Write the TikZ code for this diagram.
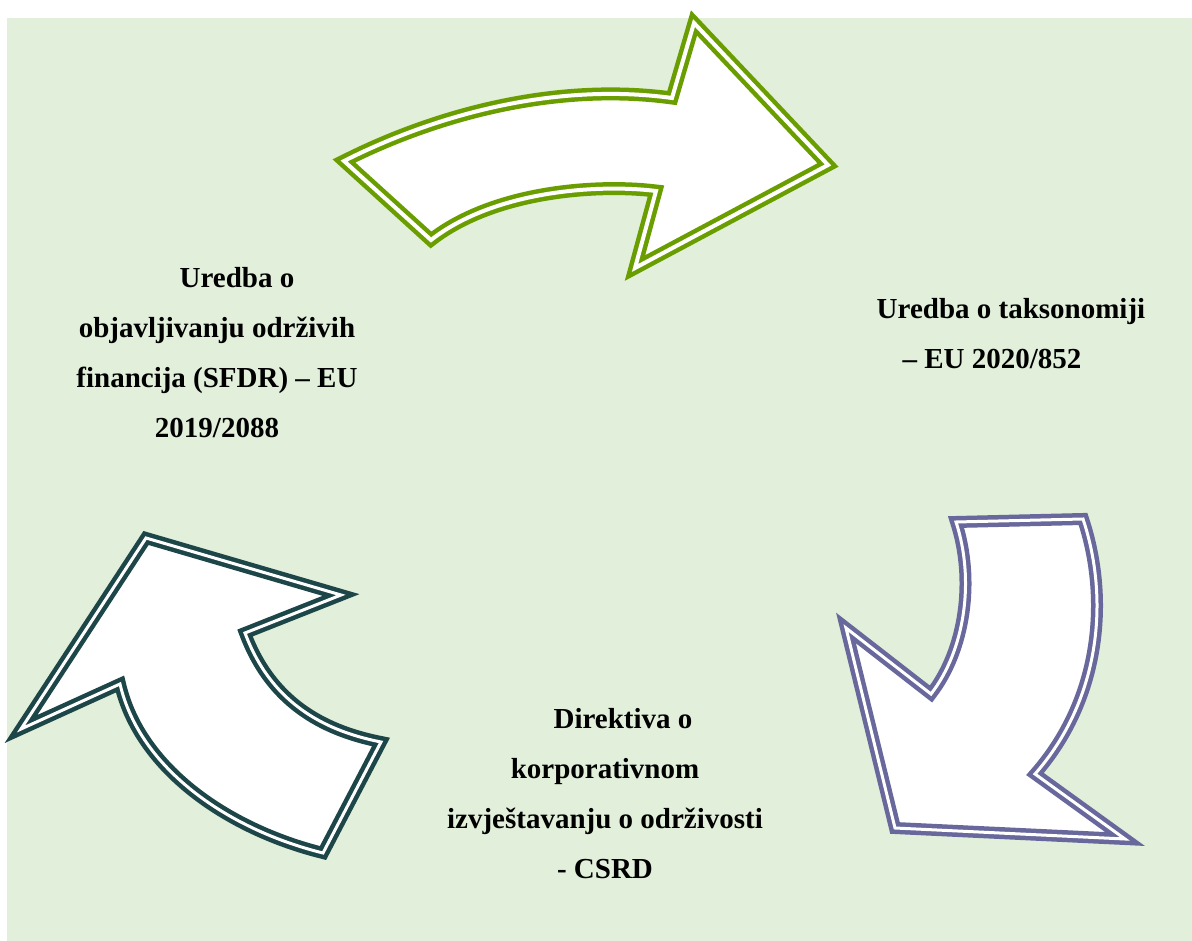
\documentclass[tikz,border=0pt]{standalone}
\usepackage{fontspec}
\setmainfont{Liberation Serif}
\definecolor{pozadina}{RGB}{226,239,218}
\definecolor{zelena}{RGB}{106,158,0}
\definecolor{ljubicasta}{RGB}{104,104,156}
\definecolor{tamna}{RGB}{29,70,73}
\tikzstyle{every node}=[font=\fontsize{29}{50}\selectfont\bfseries,align=center,anchor=north,inner sep=0pt]
\tikzstyle{strelica}=[fill=white,line width=4.5pt,double=white,double distance=3pt]

\begin{document}
\begin{tikzpicture}[x=1pt,y=-1pt]
    \useasboundingbox (0,0) rectangle (1192,941);
    \fill[pozadina] (7,18) rectangle (1192,941);
    \draw[strelica,draw=zelena,double distance=4pt]
        (344,161) .. controls (435,115) and (555,82) .. (672,98) -- (694,23)
        -- (828,165) -- (635,268) -- (656,191)
        .. controls (600,184) and (495,190) .. (431,240) -- cycle;
    \draw[strelica,draw=ljubicasta]
        (956,522) -- (1083,519) .. controls (1110,600) and (1100,700) .. (1035,774)
        -- (1125,839) -- (895,828) -- (846,628) -- (931,694)
        .. controls (965,650) and (975,580) .. (956,522) -- cycle;
    \draw[strelica,draw=tamna]
        (146,538) -- (341,595) -- (245,633)
        .. controls (270,700) and (320,730) .. (381,742) -- (323,853)
        .. controls (230,830) and (140,770) .. (120,684) -- (21,729) -- cycle;
    \node (sfdr) at (217,267) {\hspace*{40pt}Uredba o\\objavljivanju održivih\\financija (SFDR) – EU\\2019/2088};
    \node (taksonomija) at (1011,298) {Uredba o taksonomiji\\– EU 2020/852\hspace*{38pt}};
    \node (csrd) at (605,708) {\hspace*{36pt}Direktiva o\\korporativnom\\izvještavanju o održivosti\\- CSRD};
\end{tikzpicture}
\end{document}
